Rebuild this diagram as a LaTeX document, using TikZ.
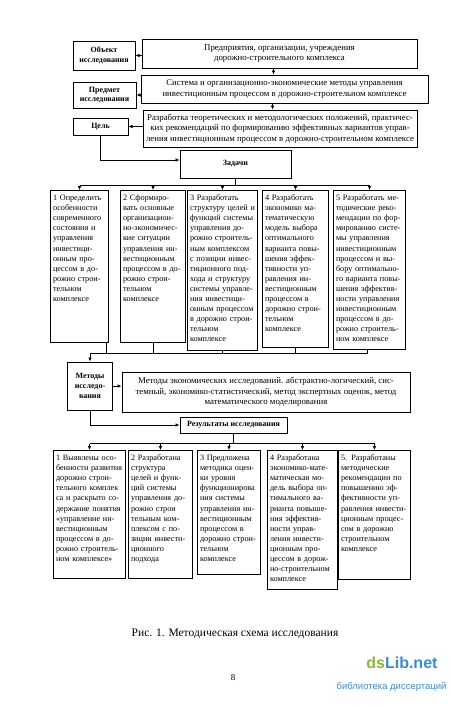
\documentclass[tikz,border=0pt]{standalone}
\usepackage{fontspec}
\setmainfont{Liberation Serif}
\setsansfont{Liberation Sans}
\usepackage{xcolor}
\usetikzlibrary{arrows.meta}

\definecolor{dsgreen}{HTML}{8CB43C}
\definecolor{dsblue}{HTML}{3C8CC8}

\begin{document}
\begin{tikzpicture}[
    x=1pt, y=-1pt,
    frame/.style={draw, line width=1pt, inner sep=2pt, align=center,
                  font=\fontsize{8.8}{10.6}\selectfont},
    head/.style={frame, font=\fontsize{8}{9.6}\selectfont\bfseries},
    item/.style={draw, line width=1pt, anchor=north west, align=left,
                 inner xsep=2.5pt, inner ysep=3.5pt, text height=6.5pt,
                 font=\fontsize{8.2}{10.1}\selectfont},
    arr/.style={-{Latex[length=4pt, width=3.6pt]}, line width=0.7pt},
    bus/.style={line width=0.7pt}
]
\useasboundingbox[fill=white] (0,0) rectangle (450,707);

% object, subject, goal
\node[head, minimum width=62pt, minimum height=29pt] (obj) at (104,55.5) {Объект\\исследования};
\node[frame, minimum width=275pt, minimum height=29pt] (ent) at (279.5,53.5)
    {Предприятия, организации, учреждения\\дорожно-строительного комплекса};
\node[head, minimum width=63pt, minimum height=26pt] (subj) at (104.5,95) {Предмет\\исследования};
\node[frame, minimum width=287pt, minimum height=28pt] (sys) at (284.5,89)
    {Система и организационно-экономические методы управления\\
     инвестиционным процессом в дорожно-строительном комплексе};
\node[head, minimum width=55pt, minimum height=17pt] (goal) at (100.5,126.5) {Цель};
\node[frame, minimum width=274pt, minimum height=37pt] (dev) at (280,128.5)
    {Разработка теоретических и методологических положений, практичес-\\
     ких рекомендаций по формированию эффективных вариантов управ-\\
     ления инвестиционным процессом в дорожно-строительном комплексе};

\draw[arr] (ent.west |- obj) -- (obj.east);
\draw[arr] ([xshift=-6pt]ent.south) -- ([xshift=-6pt]ent.south |- sys.north);
\draw[arr] (sys.west |- subj) -- (subj.east);
\draw[arr] ([xshift=-12pt]sys.south) -- ([xshift=-12pt]sys.south |- dev.north);
\draw[arr] (dev.west |- goal) -- (goal.east);

% tasks
\node[head, minimum width=111pt, minimum height=28pt] (tasks) at (235.5,164) {Задачи};
\draw[arr] (goal.south) |- ([yshift=4pt]tasks.west);

\node[item, text width=53pt, text depth=138.5pt] (t1) at (50,190)
    {1 Определить\\особенности\\современного\\состояния и\\управления\\инвестици-\\онным про-\\цессом в до-\\рожно строи-\\тельном\\комплексе};
\node[item, text width=60pt, text depth=138.5pt] (t2) at (120,190)
    {2 Сформиро-\\вать основные\\организацион-\\но-экономичес-\\кие ситуации\\управления ин-\\вестиционным\\процессом в до-\\рожно строи-\\тельном\\комплексе};
\node[item, text width=65pt, text depth=146.5pt] (t3) at (187,190)
    {3 Разработать\\структуру целей~и\\функций системы\\управления до-\\рожно строитель-\\ным комплексом\\с позиции инвес-\\тиционного под-\\хода и структуру\\системы управле-\\ния инвестици-\\онным процессом\\в дорожно строи-\\тельном\\комплексе};
\node[item, text width=61pt, text depth=143.5pt] (t4) at (262,190)
    {4 Разработать\\экономико ма-\\тематическую\\модель выбора\\оптимального\\варианта повы-\\шения эффек-\\тивности уп-\\равления ин-\\вестиционным\\процессом в\\дорожно строи-\\тельном\\комплексе};
\node[item, text width=67pt, text depth=145.5pt] (t5) at (333,190)
    {5 Разработать ме-\\тодические реко-\\мендации по фор-\\мированию систе-\\мы управления\\инвестиционным\\процессом и вы-\\бору оптимально-\\го варианта повы-\\шения эффектив-\\ности управления\\инвестиционным\\процессом в до-\\рожно строитель-\\ном комплексе};

\coordinate (tbus) at ([yshift=-7pt]tasks.south);
\draw[bus] (tasks) -- (tbus);
\draw[bus] (tbus -| t1.north) -- (tbus -| t5.north);
\foreach \n in {t1,t2,t3,t4,t5}
    \draw[arr] (tbus -| \n.north) -- (\n.north);

% methods
\node[head, minimum width=45pt, minimum height=48pt] (meth) at (90,386) {Методы\\исследо-\\вания};
\node[frame, minimum width=288pt, minimum height=40pt] (methtxt) at (266,392)
    {Методы экономических исследований. абстрактно-логический, сис-\\
     темный, экономико-статистический, метод экспертных оценок, метод\\
     математического моделирования};

\coordinate (cbus) at ([yshift=8pt]meth.north);
\draw[bus] ([xshift=-3pt]t1.south east) -- ([xshift=-3pt]t1.south east |- cbus);
\foreach \n in {t2,t3,t4}
    \draw[bus] (\n.south) -- (\n.south |- cbus);
\draw[bus] ([xshift=-2pt]t5.south) -- ([xshift=-2pt]t5.south |- cbus);
\draw[bus] (cbus) -- ([xshift=-2pt]cbus -| t5.south);
\draw[arr] (cbus) -- (meth.north);
\draw[arr] (meth.east) -- (meth.east -| methtxt.west);

% results
\node[head, minimum width=107pt, minimum height=16pt] (res) at (233.5,425) {Результаты исследования};
\draw[arr] (meth.south) |- (res.west);

\node[item, text width=67pt, text depth=114.5pt] (r1) at (53,450)
    {1 Выявлены осо-\\бенности развития\\дорожно строи-\\тельного комплек\\са и раскрыто со-\\держание понятия\\«управление ин-\\вестиционным\\процессом в до-\\рожно строитель-\\ном комплексе»};
\node[item, text width=59pt, text depth=114.5pt] (r2) at (128,450)
    {2 Разработана\\структура\\целей и функ-\\ций системы\\управления до-\\рожно строи\\тельным ком-\\плексом с по-\\зиции инвести-\\ционного\\подхода};
\node[item, text width=58pt, text depth=110.5pt] (r3) at (197,450)
    {3 Предложена\\методика оцен-\\ки уровня\\функционирова\\ния системы\\управления ин-\\вестиционным\\процессом в\\дорожно строи-\\тельном\\комплексе};
\node[item, text width=65pt, text depth=125.5pt] (r4) at (267,450)
    {4 Разработана\\экономико-мате-\\матическая мо-\\дель выбора оп-\\тимального ва-\\рианта повыше-\\ния эффектив-\\ности управ-\\ления инвести-\\ционным про-\\цессом в дорож-\\но-строительном\\комплексе};
\node[item, text width=67pt, text depth=115.5pt] (r5) at (338,450)
    {5. Разработаны\\методические\\рекомендации по\\повышению эф-\\фективности уп-\\равления инвести-\\ционным процес-\\сом в дорожно\\строительном\\комплексе};

\coordinate (rbus) at ([yshift=-10pt]res.south);
\draw[bus] (res) -- (rbus);
\draw[bus] (rbus -| r1.north) -- (rbus -| r5.north);
\foreach \n in {r1,r2,r3,r4,r5}
    \draw[arr] (rbus -| \n.north) -- (\n.north);

% caption, page, mark
\node[font=\fontsize{11.5}{13}\selectfont] (cap) at (235,634) {Рис. 1. Методическая схема исследования};
\node[font=\fontsize{9}{10}\selectfont] (page) at (233,678) {8};
\node[font=\sffamily\bfseries\fontsize{16}{18}\selectfont, anchor=east] (mark) at (441,663)
    {\textcolor{dsgreen}{ds}\textcolor{dsblue}{Lib.net}};
\node[font=\sffamily\fontsize{9.5}{11}\selectfont, text=dsblue, anchor=east] (marksub) at (450,687)
    {библиотека диссертаций};
\end{tikzpicture}
\end{document}
